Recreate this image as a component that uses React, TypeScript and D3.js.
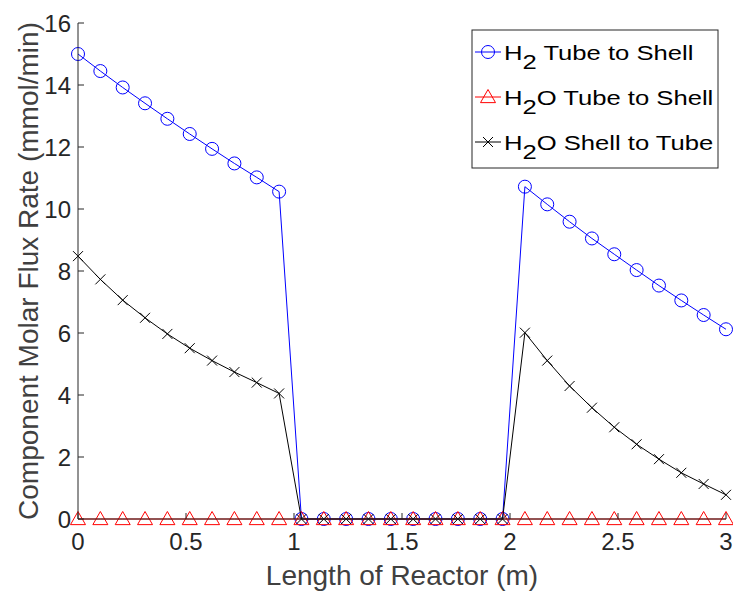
import React from "react";
import * as d3 from "d3";

const xValues: number[] = d3.range(30).map((i) => (3 * i) / 29);

const h2TubeToShell: number[] = [
  15.0, 14.45, 13.92, 13.41, 12.91, 12.42, 11.94, 11.47, 11.02, 10.56,
  0, 0, 0, 0, 0, 0, 0, 0, 0, 0,
  10.72, 10.15, 9.59, 9.05, 8.54, 8.03, 7.53, 7.05, 6.58, 6.12,
];
const h2oTubeToShell: number[] = new Array(30).fill(0);
const h2oShellToTube: number[] = [
  8.48, 7.73, 7.06, 6.49, 5.97, 5.51, 5.11, 4.74, 4.4, 4.05,
  0, 0, 0, 0, 0, 0, 0, 0, 0, 0,
  6.01, 5.11, 4.29, 3.59, 2.96, 2.41, 1.93, 1.49, 1.13, 0.78,
];

const xTicks = [0, 0.5, 1, 1.5, 2, 2.5, 3];
const yTicks = [0, 2, 4, 6, 8, 10, 12, 14, 16];

const W = 733;
const H = 592;
const L = 78, R = 726, T = 23, B = 519;
const FONT = "'Liberation Sans', Arial, Helvetica, sans-serif";
const AX = "#262626";

function Marker({ kind, x, y, color }: { kind: string; x: number; y: number; color: string }) {
  if (kind === "o") return <circle cx={x} cy={y} r={6.5} fill="none" stroke={color} strokeWidth={1} />;
  if (kind === "^") {
    const s = 7.5;
    return (
      <path
        d={`M${x},${y - s} L${x + s},${y + s * 0.75} L${x - s},${y + s * 0.75} Z`}
        fill="none"
        stroke={color}
        strokeWidth={1}
      />
    );
  }
  const s = 5;
  return (
    <path d={`M${x - s},${y - s} L${x + s},${y + s} M${x - s},${y + s} L${x + s},${y - s}`} stroke={color} strokeWidth={1} />
  );
}

export default function App() {
  const x = d3.scaleLinear().domain([0, 3]).range([L, R]);
  const y = d3.scaleLinear().domain([0, 16]).range([B, T]);
  const line = d3
    .line<[number, number]>()
    .x((d) => x(d[0]))
    .y((d) => y(d[1]));

  const series = [
    { name: ["H", "2", " Tube to Shell"], data: h2TubeToShell, color: "#0000ff", kind: "o" },
    { name: ["H", "2", "O Tube to Shell"], data: h2oTubeToShell, color: "#ff0000", kind: "^" },
    { name: ["H", "2", "O Shell to Tube"], data: h2oShellToTube, color: "#000000", kind: "x" },
  ];

  const legX = 472, legY = 30, legW = 246, legH = 138;

  return (
    <svg width={W} height={H} style={{ position: "absolute", left: 0, top: 0, background: "#fff" }} fontFamily={FONT}>
      <rect x={0} y={0} width={W} height={H} fill="#fff" />
      {series.map((s, si) => (
        <g key={si}>
          <path
            d={line(xValues.map((xv, i) => [xv, s.data[i]] as [number, number])) || ""}
            fill="none"
            stroke={s.color}
            strokeWidth={1}
          />
          {xValues.map((xv, i) => (
            <Marker key={i} kind={s.kind} x={x(xv)} y={y(s.data[i])} color={s.color} />
          ))}
        </g>
      ))}
      {/* axes */}
      <line x1={L} y1={B} x2={R} y2={B} stroke={AX} strokeWidth={1} />
      <line x1={L} y1={B} x2={L} y2={T} stroke={AX} strokeWidth={1} />
      {xTicks.map((t) => (
        <g key={"x" + t}>
          <line x1={x(t)} x2={x(t)} y1={B} y2={B - 6} stroke={AX} />
          <text x={x(t)} y={550} textAnchor="middle" fontSize={24} fill={AX}>
            {t}
          </text>
        </g>
      ))}
      {yTicks.map((t) => (
        <g key={"y" + t}>
          <line x1={L} x2={L + 6} y1={y(t)} y2={y(t)} stroke={AX} />
          <text x={71} y={y(t) + 8.5} textAnchor="end" fontSize={24} fill={AX}>
            {t}
          </text>
        </g>
      ))}
      <text x={(L + R) / 2} y={585} textAnchor="middle" fontSize={28} fill="#404040">
        Length of Reactor (m)
      </text>
      <text
        transform={`translate(38,${(T + B) / 2}) rotate(-90)`}
        textAnchor="middle"
        fontSize={28}
        fill="#404040"
      >
        Component Molar Flux Rate (mmol/min)
      </text>
      {/* legend */}
      <rect x={legX} y={legY} width={legW} height={legH} fill="#fff" stroke={AX} strokeWidth={1} />
      {series.map((s, i) => {
        const cy = 52 + i * 45;
        return (
          <g key={"l" + i}>
            <line x1={475} x2={501} y1={cy} y2={cy} stroke={s.color} />
            <Marker kind={s.kind} x={488} y={cy} color={s.color} />
            <g transform={`translate(504,${cy + 7.5}) scale(1.25,1)`}>
              <text x={0} y={0} fontSize={20.5} fill="#000">
                {s.name[0]}
                <tspan dy={9}>{s.name[1]}</tspan>
                <tspan dy={-9}>{s.name[2]}</tspan>
              </text>
            </g>
          </g>
        );
      })}
    </svg>
  );
}
